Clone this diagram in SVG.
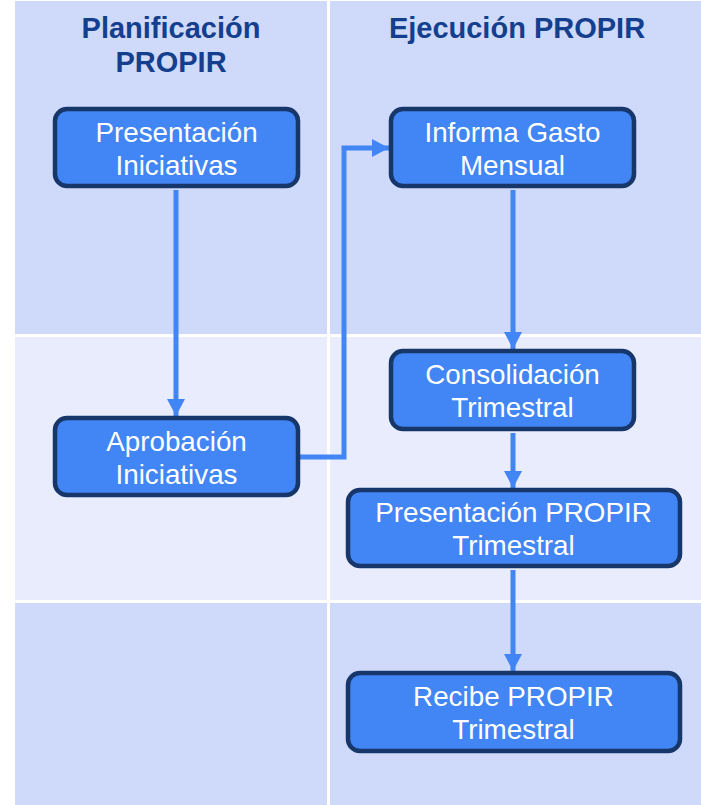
<svg xmlns="http://www.w3.org/2000/svg" width="701" height="805" viewBox="0 0 701 805">
<style>
.row1{fill:#cfd9f9}
.row2{fill:#e8ecfc}
.title{font-family:"Liberation Sans",Arial,sans-serif;font-weight:bold;font-size:29px;fill:#133f8e;text-anchor:middle}
.box{fill:#4285f4;stroke:#17366a;stroke-width:4.5}
.lbl{font-family:"Liberation Sans",Arial,sans-serif;font-size:27.8px;fill:#ffffff;text-anchor:middle}
.conn{fill:none;stroke:#4285f4;stroke-width:5}
</style>
<defs>
<marker id="ah" markerUnits="userSpaceOnUse" markerWidth="20" markerHeight="20" refX="17" refY="9" orient="auto">
<path d="M0,0 L17,9 L0,18 z" fill="#4285f4"/>
</marker>
</defs>
<rect width="701" height="805" fill="#ffffff"/>
<g id="lanes">
<rect class="row1" x="15" y="1" width="312" height="333"/>
<rect class="row1" x="330" y="1" width="371" height="333"/>
<rect class="row2" x="15" y="337" width="312" height="263"/>
<rect class="row2" x="330" y="337" width="371" height="263"/>
<rect class="row1" x="15" y="603" width="312" height="202"/>
<rect class="row1" x="330" y="603" width="371" height="202"/>
<text class="title" x="171" y="38">Planificación</text>
<text class="title" x="171" y="72">PROPIR</text>
<text class="title" x="517" y="38">Ejecución PROPIR</text>
</g>
<g id="connectors">
<path class="conn" d="M176,190 L176,416" marker-end="url(#ah)"/>
<path class="conn" d="M300,457 L344,457 L344,148 L389,148" marker-end="url(#ah)"/>
<path class="conn" d="M513,190 L513,349" marker-end="url(#ah)"/>
<path class="conn" d="M513,433 L513,488" marker-end="url(#ah)"/>
<path class="conn" d="M513,570 L513,671" marker-end="url(#ah)"/>
</g>
<g id="n1">
<rect class="box" x="55" y="109" width="243" height="77" rx="12"/>
<text class="lbl" x="176.5" y="142">Presentación</text>
<text class="lbl" x="176.5" y="175">Iniciativas</text>
</g>
<g id="n2">
<rect class="box" x="55" y="418" width="243" height="77" rx="12"/>
<text class="lbl" x="176.5" y="451">Aprobación</text>
<text class="lbl" x="176.5" y="484">Iniciativas</text>
</g>
<g id="n3">
<rect class="box" x="391" y="109" width="243" height="77" rx="12"/>
<text class="lbl" x="512.5" y="142">Informa Gasto</text>
<text class="lbl" x="512.5" y="175">Mensual</text>
</g>
<g id="n4">
<rect class="box" x="391" y="351" width="243" height="78" rx="12"/>
<text class="lbl" x="512.5" y="384">Consolidación</text>
<text class="lbl" x="512.5" y="417">Trimestral</text>
</g>
<g id="n5">
<rect class="box" x="348" y="490" width="332" height="76" rx="12"/>
<text class="lbl" x="513.5" y="522">Presentación PROPIR</text>
<text class="lbl" x="513.5" y="555">Trimestral</text>
</g>
<g id="n6">
<rect class="box" x="348" y="673" width="332" height="78" rx="12"/>
<text class="lbl" x="513.5" y="706">Recibe PROPIR</text>
<text class="lbl" x="513.5" y="739">Trimestral</text>
</g>
</svg>
